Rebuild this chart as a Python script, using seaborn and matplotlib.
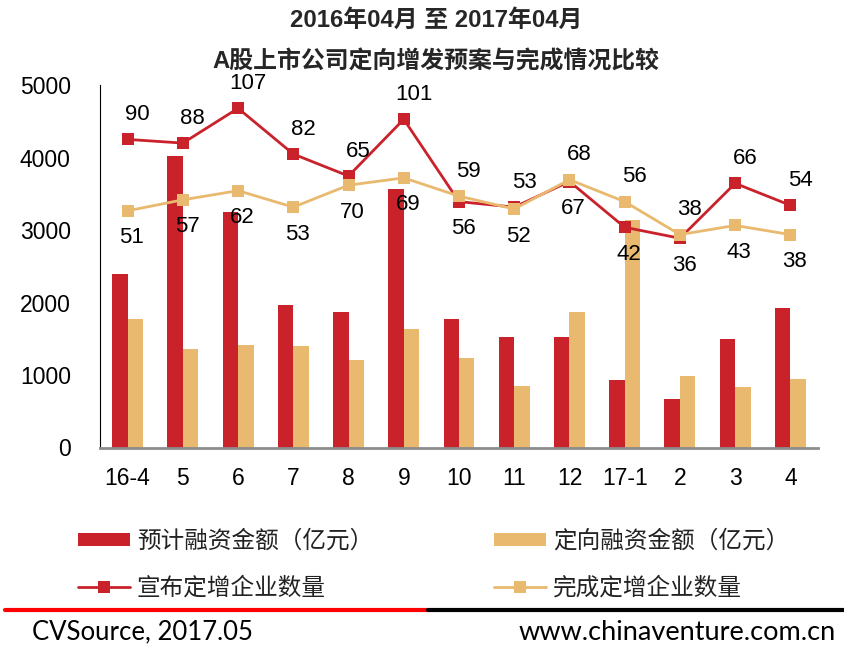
import numpy as np
import pandas as pd
import matplotlib
matplotlib.use("Agg")
import matplotlib.pyplot as plt
from matplotlib.patches import Patch
from matplotlib.lines import Line2D
import seaborn as sns

# ---------------- data ----------------
months = ["16-4", "5", "6", "7", "8", "9", "10", "11", "12", "17-1", "2", "3", "4"]
planned_amount = [2390, 4026, 3255, 1970, 1874, 3568, 1777, 1524, 1529, 935, 672, 1496, 1925]
placed_amount = [1777, 1358, 1418, 1404, 1211, 1639, 1238, 852, 1865, 3142, 990, 838, 948]
announced_count = [90, 88, 107, 82, 70, 101, 56, 53, 67, 42, 36, 66, 54]
completed_count = [51, 57, 62, 53, 65, 69, 59, 52, 68, 56, 38, 43, 38]
upper_labels = ["90", "88", "107", "82", "65", "101", "59", "53", "68", "56", "38", "66", "54"]
lower_labels = ["51", "57", "62", "53", "70", "69", "56", "52", "67", "42", "36", "43", "38"]

bar_names = ["预计融资金额（亿元）", "定向融资金额（亿元）"]
line_names = ["宣布定增企业数量", "完成定增企业数量"]
title_lines = ["2016年04月 至 2017年04月", "A股上市公司定向增发预案与完成情况比较"]
source_text = "CVSource, 2017.05"
site_text = "www.chinaventure.com.cn"

RED = "#C9222B"
TAN = "#E8B96E"

sns.set_theme(style="white")
plt.rcParams["font.family"] = ["Liberation Sans", "Noto Sans CJK SC", "DejaVu Sans"]

W, H = 844, 645
fig = plt.figure(figsize=(W / 100, H / 100), dpi=100)
ax = fig.add_axes([100 / W, 1 - 447.5 / H, 718 / W, 362 / H])

bars_df = pd.DataFrame({
    "month": months * 2,
    "amount": planned_amount + placed_amount,
    "series": [bar_names[0]] * len(months) + [bar_names[1]] * len(months),
})
sns.barplot(data=bars_df, x="month", y="amount", hue="series", order=months,
            hue_order=bar_names, palette=[RED, TAN], width=0.56, gap=0,
            saturation=1, legend=False, ax=ax, linewidth=0)

ax.set_ylim(0, 5000)
ax.set_yticks([0, 1000, 2000, 3000, 4000, 5000])
ax.set_xlim(-0.5, len(months) - 0.5)
ax.set_xlabel("")
ax.set_ylabel("")
ax.tick_params(axis="y", length=0, pad=21, labelsize=16.5, labelcolor="black")
ax.tick_params(axis="x", length=0, pad=14, labelsize=16.5, labelcolor="black")
for s in ["top", "right"]:
    ax.spines[s].set_visible(False)
ax.spines["left"].set_color("black")
ax.spines["left"].set_linewidth(0.8)
ax.spines["bottom"].set_color("#8C8C8C")
ax.spines["bottom"].set_linewidth(2)

# secondary axis for counts
ax2 = ax.twinx()
lines_df = pd.DataFrame({
    "pos": list(range(len(months))) * 2,
    "count": announced_count + completed_count,
    "series": [line_names[0]] * len(months) + [line_names[1]] * len(months),
})
sns.lineplot(data=lines_df, x="pos", y="count", hue="series", hue_order=line_names,
             palette=[RED, TAN], marker="s", markersize=9, markeredgewidth=0,
             linewidth=2, legend=False, ax=ax2, sort=False)
ax2.set_ylim(-78.3, 119.45)
ax2.set_xlim(-0.5, len(months) - 0.5)
ax2.set_axis_off()

for i in range(len(months)):
    hi = max(announced_count[i], completed_count[i])
    lo = min(announced_count[i], completed_count[i])
    ax2.annotate(upper_labels[i], (i, hi), xytext=(7, 18), textcoords="offset points",
                 ha="center", va="center", fontsize=16, color="black")
    ax2.annotate(lower_labels[i], (i, lo), xytext=(3, -19.5), textcoords="offset points",
                 ha="center", va="center", fontsize=16, color="black")

# titles
fig.text(436 / W, 1 - 20 / H, title_lines[0], ha="center", va="center",
         fontsize=17.2, fontweight="bold")
fig.text(436 / W, 1 - 62 / H, title_lines[1], ha="center", va="center",
         fontsize=17.2, fontweight="bold")

# legend
handles = [
    Patch(facecolor=RED, edgecolor="none"),
    Line2D([], [], color=RED, lw=2, marker="s", markersize=9, markeredgewidth=0),
    Patch(facecolor=TAN, edgecolor="none"),
    Line2D([], [], color=TAN, lw=2, marker="s", markersize=9, markeredgewidth=0),
]
labels = [bar_names[0], line_names[0], bar_names[1], line_names[1]]
leg = fig.legend(handles, labels, ncol=2, loc="upper left",
                 bbox_to_anchor=(78 / W, 1 - 530 / H), frameon=False,
                 prop={"family": ["Noto Sans CJK SC"], "size": 17, "weight": "light"},
                 handlelength=2.2, handleheight=0.42, handletextpad=0.3,
                 columnspacing=5.1, labelspacing=1.0, borderpad=0, borderaxespad=0)
for t in leg.get_texts():
    t.set_color("#222222")

# footer rule
fig.add_artist(Line2D([5 / W, 428 / W], [1 - 610 / H] * 2, color="#FF0000", lw=3,
                      transform=fig.transFigure))
fig.add_artist(Line2D([428 / W, 1.0], [1 - 610 / H] * 2, color="black", lw=3,
                      transform=fig.transFigure))
fig.text(32 / W, 1 - 632 / H, source_text, ha="left", va="center", fontsize=18.5,
         family=["Lato", "DejaVu Sans"], color="black")
fig.text(836 / W, 1 - 632 / H, site_text, ha="right", va="center", fontsize=19.5,
         family=["Lato", "DejaVu Sans"], color="black")

fig.savefig("out.png", dpi=100)
